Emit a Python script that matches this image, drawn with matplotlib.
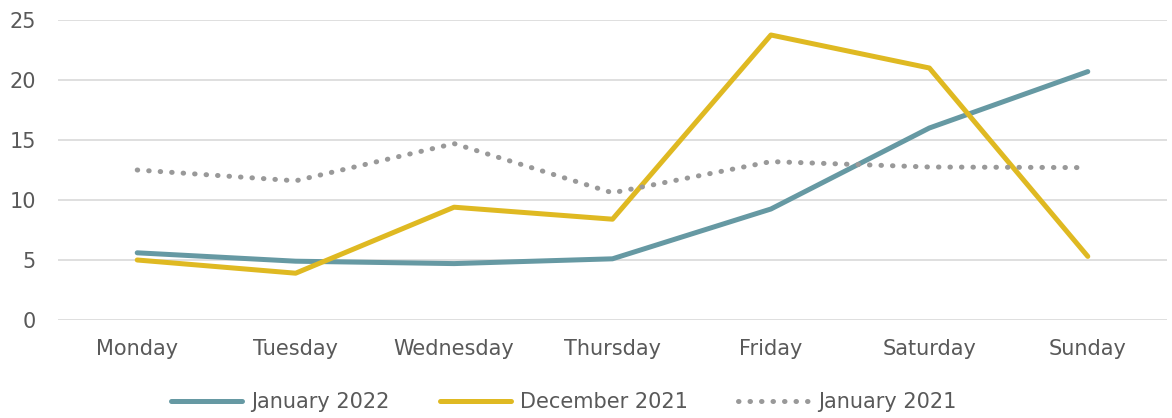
import matplotlib.pyplot as plt

days = ['Monday', 'Tuesday', 'Wednesday', 'Thursday', 'Friday', 'Saturday', 'Sunday']
jan_2022 = [5.6, 4.9, 4.7, 5.1, 9.25, 16.0, 20.7]
dec_2021 = [5.0, 3.9, 9.4, 8.4, 23.75, 21.0, 5.3]
jan_2021 = [12.5, 11.6, 14.7, 10.6, 13.2, 12.75, 12.7]
y_ticks = [0, 5, 10, 15, 20, 25]

plt.rcParams['font.family'] = ['DejaVu Sans']
text_col = '#595959'

fig = plt.figure(figsize=(11.72, 4.18), dpi=100)
ax = fig.add_axes([58 / 1172, 1 - 320 / 418, (1167 - 58) / 1172, 300 / 418])

x = list(range(len(days)))
ax.plot(x, jan_2022, color='#6699a3', lw=3.6, solid_capstyle='round', label='January 2022')
ax.plot(x, dec_2021, color='#dfb922', lw=3.6, solid_capstyle='round', label='December 2021')
ax.plot(x, jan_2021, color='#999999', lw=3.6, linestyle=(0, (0.1, 2.2)),
        dash_capstyle='round', label='January 2021')

ax.set_xlim(-0.5, len(days) - 0.5)
ax.set_ylim(0, 25)
ax.set_yticks(y_ticks)
ax.set_xticks(x)
ax.set_xticklabels(days)
ax.grid(axis='y', color='#d9d9d9', lw=1.2)
ax.set_axisbelow(True)
for s in ax.spines.values():
    s.set_visible(False)
ax.tick_params(length=0, labelsize=15, colors=text_col)
ax.tick_params(axis='x', pad=14)
ax.tick_params(axis='y', pad=16)

leg = fig.legend(loc='center', bbox_to_anchor=(564 / 1172, 1 - 402 / 418), ncol=3, frameon=False,
                 fontsize=15, handlelength=3.4, handletextpad=0.45, columnspacing=2.4)
for t in leg.get_texts():
    t.set_color(text_col)

fig.savefig('out.png', dpi=100)
